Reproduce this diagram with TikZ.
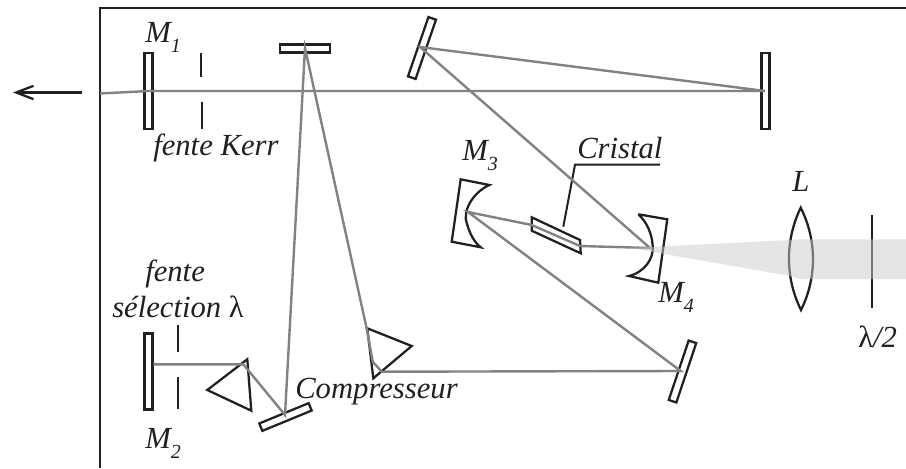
\documentclass[tikz,border=0pt]{standalone}
\usepackage{fontspec}
\setmainfont{Liberation Serif}
\usetikzlibrary{arrows.meta,positioning}
\definecolor{ink}{HTML}{231F20}
\definecolor{ray}{HTML}{808285}
\newcommand{\msub}[2]{\textit{#1}\raisebox{-7.5pt}{\fontsize{15}{15}\selectfont\textit{#2}}}
\tikzset{
  mirror/.style={draw=ink, line width=1.7pt, minimum height=6pt, inner sep=0pt},
  optic/.style={draw=ink, line width=1.7pt, line join=miter},
  beam/.style={draw=ray, line width=1.8pt},
  lbl/.style={anchor=base west, inner sep=0pt, text=ink, font=\fontsize{23}{27}\selectfont\itshape}
}
\begin{document}
\begin{tikzpicture}[x=.75pt,y=-.75pt]
    \useasboundingbox (0,0) rectangle (906,468);
    % frame and exit arrow
    \coordinate (fr1) at (100,468);
    \coordinate (fr2) at (100,8);
    \coordinate (fr3) at (906,8);
    \draw[ink, line width=2.1pt] (fr1) -- (fr2) -- (fr3);
    \coordinate (out1) at (82,92.5);
    \coordinate (out2) at (13,92.5);
    \draw[ink, line width=1.7pt, -{Straight Barb[length=13pt,width=10pt]}] (out1) -- (out2);
    % mirrors
    \node[mirror, minimum width=57pt, rotate=90] (m1) at (148.5,91) {};
    \node[mirror, minimum width=57pt, rotate=90] (m2) at (148.5,371.5) {};
    \node[mirror, minimum width=38pt] (mtop) at (305,48.5) {};
    \node[mirror, minimum width=47pt, rotate=71] (mtilt) at (422,48) {};
    \node[mirror, minimum width=57pt, rotate=90] (mend) at (765.5,91) {};
    \node[mirror, minimum width=47pt, rotate=71.5] (mlow) at (682.5,371.5) {};
    \node[mirror, minimum width=40pt, rotate=22.4] (mcomp) at (285.5,417) {};
    % slits
    \draw[optic] (201,53) -- (201,77);
    \draw[optic] (202,102) -- (202,129);
    \draw[optic] (178.3,325) -- (178.3,351.7);
    \draw[optic] (178.3,377.3) -- (178.3,409.3);
    % prisms
    \draw[optic] (247.3,359.3) -- (251.3,410.7) -- (207.3,390) -- cycle;
    \draw[optic] (367.3,328.3) -- (411.7,346) -- (373.3,378.3) -- cycle;
    % curved mirrors
    \draw[optic] (460.7,179.3) -- (489.3,185) .. controls (472,193) and (462,212) .. (467,224) .. controls (470,234) and (474,242) .. (480.7,247.3) -- (451.7,241.7) -- cycle;
    \draw[optic] (638.3,214.3) -- (667.3,219.3) -- (658.3,282.7) -- (629,276) .. controls (645,272) and (654,258) .. (652.7,246) .. controls (652,234) and (647,222) .. (638.3,214.3);
    % crystal
    \draw[optic] (531.7,217.3) -- (580,240) -- (580.7,253.3) -- (531.7,230.7) -- cycle;
    \coordinate (lead1) at (660,164.7);
    \coordinate (lead2) at (575,164.7);
    \coordinate (lead3) at (563.3,226.7);
    \draw[ink, line width=1.5pt] (lead1) -- (lead2) -- (lead3);
    % lens and plate
    \draw[optic] (800.7,207.7) .. controls (785,240) and (785,278) .. (801,310) .. controls (817,278) and (817,240) .. (800.7,207.7) -- cycle;
    \coordinate (pl1) at (872.3,215);
    \coordinate (pl2) at (872.3,308);
    \draw[ink, line width=1.7pt] (pl1) -- (pl2);
    % beam path
    \coordinate (h0) at (100,93.5);
    \coordinate (h1) at (148.5,91);
    \coordinate (h2) at (765,91);
    \coordinate (t1) at (420,47);
    \coordinate (t2) at (305,48);
    \coordinate (c1) at (285,415);
    \coordinate (c2) at (243.3,364.3);
    \coordinate (c3) at (153.3,364.3);
    \coordinate (p1) at (367,330);
    \coordinate (p2) at (372.7,361.7);
    \coordinate (p3) at (381.7,371.7);
    \coordinate (r1) at (680.7,371);
    \coordinate (k3) at (468,212);
    \coordinate (k4) at (650,248);
    \coordinate (x1) at (531.7,225);
    \coordinate (x2) at (580,246);
    \draw[beam] (h0) -- (h1) -- (h2) -- (t1) -- (k4) -- (x2) -- (x1) -- (k3) -- (r1) -- (p3) -- (p2) -- (p1) -- (t2) -- (c1) -- (c2) -- (c3);
    % pump light
    \fill[black!20, opacity=.5] (630,248) -- (790,240) -- (800,239.3) -- (906,239.3) -- (906,279) -- (800,279) -- (790,276) -- cycle;
    % labels
    \node[lbl] (lm1) at (145,42) {\msub{M}{1}};
    \node[lbl] (lm2) at (145,448) {\msub{M}{2}};
    \node[lbl] (lm3) at (462,160) {\msub{M}{3}};
    \node[lbl] (lm4) at (658,302) {\msub{M}{4}};
    \node[lbl] (lkerr) at (153,155) {fente Kerr};
    \node[lbl] (lf) at (145,281) {fente};
    \node[lbl] (lsel) at (112,317) {sélection \textup{λ}};
    \node[lbl] (lcomp) at (295,398) {Compresseur};
    \node[lbl] (lcris) at (577,158) {Cristal};
    \node[lbl] (ll) at (792,191) {L};
    \node[lbl] (lhalf) at (858,347) {\textup{λ}/2};
\end{tikzpicture}
\end{document}
